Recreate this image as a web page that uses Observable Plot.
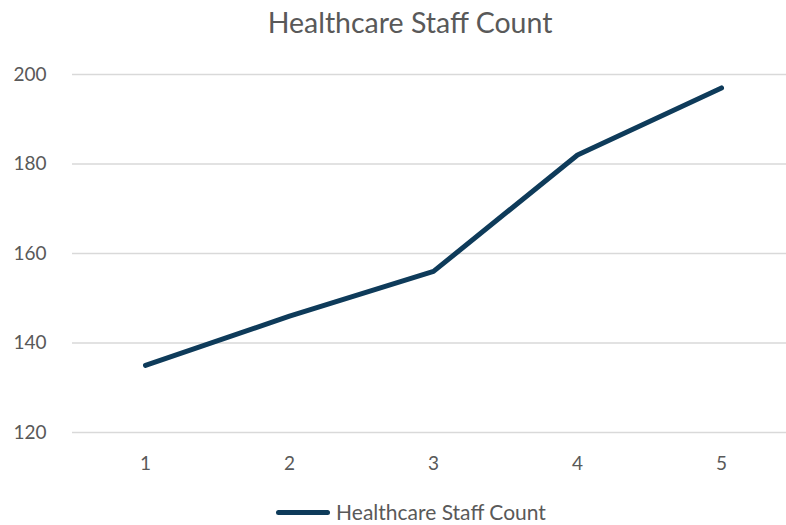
<!DOCTYPE html>
<html>
<head>
<meta charset="utf-8">
<script src="https://cdn.jsdelivr.net/npm/d3@7"></script>
<script src="https://cdn.jsdelivr.net/npm/@observablehq/plot@0.6"></script>
<style>
  html, body { margin: 0; padding: 0; background: #fff; overflow: hidden; }
  #wrap { position: relative; width: 786px; height: 525px; font-family: Lato, "Open Sans", sans-serif; }
  #title { position: absolute; left: 17px; width: 786px; top: 5px; line-height: 34px; text-align: center; font-size: 28.5px; color: #595959; }
  #legend { position: absolute; left: 18px; width: 786px; top: 502px; height: 20px; line-height: 20px; display: flex; justify-content: center; align-items: center; font-size: 21px; color: #595959; }
  #legend .sw { display: inline-block; width: 54px; height: 5px; background: #0e3b5a; border-radius: 3px; margin-right: 6px; }
  #chart { position: absolute; left: 0; top: 0; }
</style>
</head>
<body>
<div id="wrap">
  <div id="chart"></div>
  <div id="title">Healthcare Staff Count</div>
  <div id="legend"><span class="sw"></span><span>Healthcare Staff Count</span></div>
</div>
<script>
const categories = [1, 2, 3, 4, 5];
const staffCount = [135, 146, 156, 182, 197];
const yTicks = [120, 140, 160, 180, 200];
const seriesName = "Healthcare Staff Count";

const data = categories.map((c, i) => ({cat: c, value: staffCount[i]}));

const chart = Plot.plot({
  width: 786,
  height: 525,
  marginLeft: 72,
  marginRight: 0,
  marginTop: 74,
  marginBottom: 93,
  style: {fontFamily: "Lato, 'Open Sans', sans-serif", fontSize: "19px", color: "#595959", background: "transparent"},
  x: {type: "point", domain: categories, range: [145, 721], padding: 0, label: null},
  y: {domain: [120, 200], label: null},
  marks: [
    Plot.ruleY(yTicks, {stroke: "#d9d9d9", strokeWidth: 1.5}),
    Plot.axisY({ticks: yTicks, tickSize: 0, tickPadding: 26, label: null, fill: "#595959"}),
    Plot.axisX({tickSize: 0, tickPadding: 24, label: null, fill: "#595959"}),
    Plot.line(data, {x: "cat", y: "value", stroke: "#0e3b5a", strokeWidth: 5, strokeLinecap: "round", strokeLinejoin: "round"})
  ]
});
document.getElementById("chart").appendChild(chart);
</script>
</body>
</html>
